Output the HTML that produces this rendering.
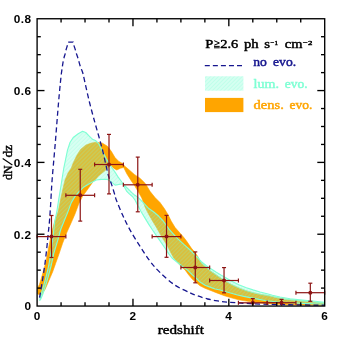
<!DOCTYPE html>
<html><head><meta charset="utf-8"><title>dN/dz</title>
<style>html,body{margin:0;padding:0;background:#fff;}body{width:343px;height:343px;overflow:hidden;font-family:"Liberation Sans",sans-serif;}svg{display:block;will-change:transform;}</style></head>
<body>
<svg width="343" height="343" viewBox="0 0 343 343">
<defs><pattern id="h" width="2.8" height="2.8" patternUnits="userSpaceOnUse" patternTransform="rotate(-45)"><line x1="0" y1="1.4" x2="2.8" y2="1.4" stroke="#7fffd4" stroke-width="1.2"/></pattern>
<clipPath id="cp"><rect x="37.10" y="18.75" width="287.60" height="287.30"/></clipPath></defs>
<rect width="343" height="343" fill="#fff"/>
<g clip-path="url(#cp)">
<path d="M37.50 288.00 L39.40 284.60 L41.30 278.30 L43.80 269.50 L45.70 263.00 L47.50 253.30 L50.00 240.80 L52.50 229.50 L54.50 222.00 L58.20 211.30 L60.70 198.80 L63.20 187.50 L65.00 180.00 L68.00 173.00 L71.30 168.00 L73.40 162.40 L77.00 155.10 L80.60 149.40 L85.80 145.10 L91.40 143.00 L96.40 142.20 L102.50 143.20 L107.50 146.30 L111.30 151.30 L115.00 157.60 L118.80 161.40 L122.60 163.50 L124.30 165.70 L129.30 170.00 L134.30 174.40 L140.00 178.20 L144.40 182.60 L146.30 185.00 L150.00 191.30 L155.00 197.50 L160.00 202.50 L164.50 208.80 L168.20 215.00 L171.30 221.30 L175.10 227.50 L179.50 232.50 L183.90 237.60 L186.90 241.50 L191.30 248.10 L195.10 252.50 L197.60 256.30 L201.40 263.00 L206.30 267.60 L210.00 270.60 L217.50 275.80 L224.40 280.50 L231.30 284.40 L238.80 287.90 L246.40 290.80 L253.00 292.70 L262.60 294.80 L268.00 295.60 L275.00 297.20 L285.00 299.20 L297.60 300.70 L308.00 301.50 L324.70 303.20 L324.70 305.30 L290.00 304.80 L268.00 303.70 L260.00 302.90 L253.00 302.00 L246.40 301.10 L238.80 299.80 L231.30 297.80 L224.40 295.70 L217.50 293.20 L210.00 290.20 L205.00 288.30 L200.00 285.80 L195.00 281.50 L192.60 279.50 L188.80 275.10 L185.10 270.00 L181.00 266.30 L177.50 262.50 L173.80 258.00 L170.70 252.60 L167.60 246.30 L163.80 240.10 L160.00 233.80 L156.30 227.20 L152.50 221.00 L148.50 214.00 L145.00 206.90 L141.80 198.00 L138.70 192.60 L135.00 186.30 L131.20 180.70 L126.80 173.80 L123.70 167.50 L120.50 168.20 L116.80 170.00 L113.60 168.20 L110.50 165.00 L109.50 166.30 L105.00 170.70 L98.80 175.70 L95.00 180.00 L92.50 182.50 L88.00 188.80 L82.60 196.30 L78.80 203.80 L75.10 213.80 L71.30 222.50 L67.00 232.00 L62.60 243.30 L58.80 254.60 L55.70 263.30 L52.60 272.00 L48.80 280.80 L45.00 289.60 L40.60 295.80 L39.40 294.50 L37.50 294.00Z" fill="#FFA500" stroke="#FFA500" stroke-width="0.6"/>
<path d="M39.80 300.50 L40.20 297.00 L42.50 289.60 L45.00 280.80 L47.50 271.00 L49.20 263.00 L50.70 253.30 L52.50 240.80 L53.80 229.50 L54.60 222.00 L56.90 211.30 L58.80 198.80 L60.70 187.50 L61.90 180.00 L63.80 168.00 L65.70 158.80 L67.50 150.10 L70.00 142.50 L73.20 137.50 L78.20 133.80 L82.60 131.30 L85.70 132.50 L89.50 136.30 L92.60 139.40 L95.50 140.50 L98.80 143.80 L102.50 151.30 L106.30 158.80 L110.00 165.10 L112.00 168.00 L114.50 171.30 L118.00 176.90 L121.80 182.00 L124.30 185.10 L128.10 188.80 L131.80 192.60 L133.80 194.40 L137.50 196.90 L141.30 200.70 L144.40 203.80 L148.80 208.60 L153.80 212.00 L158.80 216.30 L163.20 221.00 L168.80 228.80 L173.20 233.80 L177.60 238.60 L183.80 244.40 L190.10 250.00 L196.30 256.30 L201.40 261.60 L206.30 265.80 L211.30 268.90 L216.30 272.20 L221.30 275.20 L224.40 276.90 L231.30 280.90 L238.80 284.80 L246.40 287.70 L253.00 289.90 L260.10 292.00 L268.00 294.00 L272.50 295.20 L280.00 297.00 L290.00 298.70 L302.50 300.10 L315.10 301.30 L324.70 302.40 L324.70 304.20 L308.00 303.60 L290.00 302.80 L277.50 302.00 L265.00 300.50 L257.60 299.10 L250.00 297.60 L243.80 296.40 L237.50 295.00 L231.30 293.20 L225.10 291.50 L220.10 290.00 L215.10 289.00 L210.00 287.10 L205.00 285.20 L200.00 282.10 L195.00 277.00 L192.60 275.10 L187.60 270.10 L182.50 266.50 L177.50 262.50 L172.00 258.00 L168.80 253.90 L165.10 248.20 L161.30 242.60 L156.90 236.30 L152.50 230.00 L148.80 224.40 L145.00 218.10 L141.30 212.00 L137.50 205.00 L135.00 200.00 L132.40 196.50 L129.30 193.90 L126.80 191.40 L123.70 185.70 L123.00 183.80 L118.90 184.50 L115.10 185.10 L111.30 181.90 L107.60 179.40 L101.30 179.40 L96.30 180.00 L92.50 181.90 L88.00 184.40 L83.90 186.90 L78.80 191.90 L75.10 196.30 L71.30 202.60 L67.60 212.60 L63.50 222.50 L60.70 229.50 L57.60 240.80 L53.80 253.30 L51.30 265.00 L48.80 274.50 L46.30 283.30 L43.10 293.30 L40.80 299.00 L39.80 300.50Z" fill="#7fffd4" fill-opacity="0.27" stroke="none"/>
<path d="M39.80 300.50 L40.20 297.00 L42.50 289.60 L45.00 280.80 L47.50 271.00 L49.20 263.00 L50.70 253.30 L52.50 240.80 L53.80 229.50 L54.60 222.00 L56.90 211.30 L58.80 198.80 L60.70 187.50 L61.90 180.00 L63.80 168.00 L65.70 158.80 L67.50 150.10 L70.00 142.50 L73.20 137.50 L78.20 133.80 L82.60 131.30 L85.70 132.50 L89.50 136.30 L92.60 139.40 L95.50 140.50 L98.80 143.80 L102.50 151.30 L106.30 158.80 L110.00 165.10 L112.00 168.00 L114.50 171.30 L118.00 176.90 L121.80 182.00 L124.30 185.10 L128.10 188.80 L131.80 192.60 L133.80 194.40 L137.50 196.90 L141.30 200.70 L144.40 203.80 L148.80 208.60 L153.80 212.00 L158.80 216.30 L163.20 221.00 L168.80 228.80 L173.20 233.80 L177.60 238.60 L183.80 244.40 L190.10 250.00 L196.30 256.30 L201.40 261.60 L206.30 265.80 L211.30 268.90 L216.30 272.20 L221.30 275.20 L224.40 276.90 L231.30 280.90 L238.80 284.80 L246.40 287.70 L253.00 289.90 L260.10 292.00 L268.00 294.00 L272.50 295.20 L280.00 297.00 L290.00 298.70 L302.50 300.10 L315.10 301.30 L324.70 302.40 L324.70 304.20 L308.00 303.60 L290.00 302.80 L277.50 302.00 L265.00 300.50 L257.60 299.10 L250.00 297.60 L243.80 296.40 L237.50 295.00 L231.30 293.20 L225.10 291.50 L220.10 290.00 L215.10 289.00 L210.00 287.10 L205.00 285.20 L200.00 282.10 L195.00 277.00 L192.60 275.10 L187.60 270.10 L182.50 266.50 L177.50 262.50 L172.00 258.00 L168.80 253.90 L165.10 248.20 L161.30 242.60 L156.90 236.30 L152.50 230.00 L148.80 224.40 L145.00 218.10 L141.30 212.00 L137.50 205.00 L135.00 200.00 L132.40 196.50 L129.30 193.90 L126.80 191.40 L123.70 185.70 L123.00 183.80 L118.90 184.50 L115.10 185.10 L111.30 181.90 L107.60 179.40 L101.30 179.40 L96.30 180.00 L92.50 181.90 L88.00 184.40 L83.90 186.90 L78.80 191.90 L75.10 196.30 L71.30 202.60 L67.60 212.60 L63.50 222.50 L60.70 229.50 L57.60 240.80 L53.80 253.30 L51.30 265.00 L48.80 274.50 L46.30 283.30 L43.10 293.30 L40.80 299.00 L39.80 300.50Z" fill="url(#h)" fill-opacity="0.27" stroke="#7fffd4" stroke-width="1.15" stroke-linejoin="round"/>
<path d="M197.60 256.30 L201.40 263.00 L206.30 267.60 L210.00 270.60 L217.50 275.80 L224.40 280.50 L231.30 284.40 L238.80 287.90 L246.40 290.80 L253.00 292.70 L262.60 294.80 L268.00 295.60 L275.00 297.20 L285.00 299.20 L297.60 300.70 L308.00 301.50 L324.70 303.20" fill="none" stroke="#7fffd4" stroke-width="0.8" stroke-opacity="0.9"/>
<path d="M39.60 297.60 C40.08 294.67 41.60 285.70 42.50 280.00 C43.40 274.30 44.27 268.90 45.00 263.40 C45.73 257.90 46.38 251.82 46.90 247.00 C47.42 242.18 47.68 238.67 48.10 234.50 C48.52 230.33 48.98 226.92 49.40 222.00 C49.82 217.08 50.15 212.00 50.60 205.00 C51.05 198.00 51.35 189.98 52.10 180.00 C52.85 170.02 54.03 157.93 55.10 145.10 C56.17 132.27 57.53 114.23 58.50 103.00 C59.47 91.77 60.23 83.92 60.90 77.70 C61.57 71.48 62.12 68.43 62.50 65.70 C62.88 62.97 62.95 62.62 63.20 61.30 C63.45 59.98 63.65 59.15 64.00 57.80 C64.35 56.45 64.97 54.50 65.30 53.20 C65.63 51.90 65.63 51.37 66.00 50.00 C66.37 48.63 67.13 46.30 67.50 45.00 C67.87 43.70 68.08 42.67 68.20 42.20 L73.20 42.20 C73.30 42.67 73.43 43.70 73.80 45.00 C74.17 46.30 74.98 48.63 75.40 50.00 C75.82 51.37 75.90 51.90 76.30 53.20 C76.70 54.50 77.38 56.45 77.80 57.80 C78.22 59.15 78.42 59.98 78.80 61.30 C79.18 62.62 79.68 64.43 80.10 65.70 C80.52 66.97 80.85 67.68 81.30 68.90 C81.75 70.12 82.37 71.53 82.80 73.00 C83.23 74.47 82.82 72.95 83.90 77.70 C84.98 82.45 87.45 93.95 89.30 101.50 C91.15 109.05 93.42 117.20 95.00 123.00 C96.58 128.80 97.55 131.80 98.80 136.30 C100.05 140.80 101.35 145.40 102.50 150.00 C103.65 154.60 104.68 159.52 105.70 163.90 C106.72 168.28 107.58 172.77 108.60 176.30 C109.62 179.83 110.75 181.97 111.80 185.10 C112.85 188.23 114.15 192.62 114.90 195.10 C115.65 197.58 115.02 196.68 116.30 200.00 C117.58 203.32 120.30 209.98 122.60 215.00 C124.90 220.02 127.18 224.87 130.10 230.10 C133.02 235.33 136.75 241.18 140.10 246.40 C143.45 251.62 146.85 257.02 150.20 261.40 C153.55 265.78 156.03 268.72 160.20 272.70 C164.37 276.68 170.23 281.97 175.20 285.30 C180.17 288.63 186.28 290.95 190.00 292.70 C193.72 294.45 194.57 294.75 197.50 295.80 C200.43 296.85 204.25 298.15 207.60 299.00 C210.95 299.85 214.27 300.38 217.60 300.90 C220.93 301.42 222.20 301.65 227.60 302.10 C233.00 302.55 241.27 303.18 250.00 303.60 C258.73 304.02 267.55 304.33 280.00 304.60 C292.45 304.87 317.25 305.10 324.70 305.20" fill="none" stroke="#16168f" stroke-width="1.3" stroke-dasharray="5.1 3.2" stroke-dashoffset="8.25"/>
</g>
<g stroke="#8c1414" stroke-width="1.2" fill="none">
<line x1="37.10" y1="236.60" x2="65.86" y2="236.60"/>
<line x1="51.48" y1="215.50" x2="51.48" y2="257.50"/>
<line x1="49.48" y1="215.50" x2="53.48" y2="215.50"/>
<line x1="49.48" y1="257.50" x2="53.48" y2="257.50"/>
<line x1="37.10" y1="234.60" x2="37.10" y2="238.60"/>
<line x1="65.86" y1="234.60" x2="65.86" y2="238.60"/>
</g>
<circle cx="51.48" cy="236.60" r="2.0" fill="#8c1414"/>
<g stroke="#8c1414" stroke-width="1.2" fill="none">
<line x1="65.86" y1="195.30" x2="94.62" y2="195.30"/>
<line x1="80.24" y1="169.30" x2="80.24" y2="221.10"/>
<line x1="78.24" y1="169.30" x2="82.24" y2="169.30"/>
<line x1="78.24" y1="221.10" x2="82.24" y2="221.10"/>
<line x1="65.86" y1="193.30" x2="65.86" y2="197.30"/>
<line x1="94.62" y1="193.30" x2="94.62" y2="197.30"/>
</g>
<circle cx="80.24" cy="195.30" r="2.0" fill="#8c1414"/>
<g stroke="#8c1414" stroke-width="1.2" fill="none">
<line x1="94.62" y1="164.50" x2="123.38" y2="164.50"/>
<line x1="109.00" y1="134.40" x2="109.00" y2="193.90"/>
<line x1="107.00" y1="134.40" x2="111.00" y2="134.40"/>
<line x1="107.00" y1="193.90" x2="111.00" y2="193.90"/>
<line x1="94.62" y1="162.50" x2="94.62" y2="166.50"/>
<line x1="123.38" y1="162.50" x2="123.38" y2="166.50"/>
</g>
<circle cx="109.00" cy="164.50" r="2.0" fill="#8c1414"/>
<g stroke="#8c1414" stroke-width="1.2" fill="none">
<line x1="123.38" y1="184.80" x2="152.14" y2="184.80"/>
<line x1="137.76" y1="157.10" x2="137.76" y2="211.80"/>
<line x1="135.76" y1="157.10" x2="139.76" y2="157.10"/>
<line x1="135.76" y1="211.80" x2="139.76" y2="211.80"/>
<line x1="123.38" y1="182.80" x2="123.38" y2="186.80"/>
<line x1="152.14" y1="182.80" x2="152.14" y2="186.80"/>
</g>
<circle cx="137.76" cy="184.80" r="2.0" fill="#8c1414"/>
<g stroke="#8c1414" stroke-width="1.2" fill="none">
<line x1="152.14" y1="236.60" x2="180.90" y2="236.60"/>
<line x1="166.52" y1="215.40" x2="166.52" y2="257.30"/>
<line x1="164.52" y1="215.40" x2="168.52" y2="215.40"/>
<line x1="164.52" y1="257.30" x2="168.52" y2="257.30"/>
<line x1="152.14" y1="234.60" x2="152.14" y2="238.60"/>
<line x1="180.90" y1="234.60" x2="180.90" y2="238.60"/>
</g>
<circle cx="166.52" cy="236.60" r="2.0" fill="#8c1414"/>
<g stroke="#8c1414" stroke-width="1.2" fill="none">
<line x1="180.90" y1="267.50" x2="209.66" y2="267.50"/>
<line x1="195.28" y1="251.90" x2="195.28" y2="282.80"/>
<line x1="193.28" y1="251.90" x2="197.28" y2="251.90"/>
<line x1="193.28" y1="282.80" x2="197.28" y2="282.80"/>
<line x1="180.90" y1="265.50" x2="180.90" y2="269.50"/>
<line x1="209.66" y1="265.50" x2="209.66" y2="269.50"/>
</g>
<circle cx="195.28" cy="267.50" r="2.0" fill="#8c1414"/>
<g stroke="#8c1414" stroke-width="1.2" fill="none">
<line x1="209.66" y1="280.50" x2="238.42" y2="280.50"/>
<line x1="224.04" y1="267.60" x2="224.04" y2="292.80"/>
<line x1="222.04" y1="267.60" x2="226.04" y2="267.60"/>
<line x1="222.04" y1="292.80" x2="226.04" y2="292.80"/>
<line x1="209.66" y1="278.50" x2="209.66" y2="282.50"/>
<line x1="238.42" y1="278.50" x2="238.42" y2="282.50"/>
</g>
<circle cx="224.04" cy="280.50" r="2.0" fill="#8c1414"/>
<g stroke="#8c1414" stroke-width="1.2" fill="none">
<line x1="238.42" y1="302.80" x2="267.18" y2="302.80"/>
<line x1="252.80" y1="298.60" x2="252.80" y2="305.60"/>
<line x1="250.80" y1="298.60" x2="254.80" y2="298.60"/>
<line x1="238.42" y1="300.80" x2="238.42" y2="304.80"/>
<line x1="267.18" y1="300.80" x2="267.18" y2="304.80"/>
</g>
<circle cx="252.80" cy="302.80" r="2.0" fill="#8c1414"/>
<g stroke="#8c1414" stroke-width="1.2" fill="none">
<line x1="267.18" y1="302.70" x2="295.94" y2="302.70"/>
<line x1="281.56" y1="299.40" x2="281.56" y2="305.60"/>
<line x1="279.56" y1="299.40" x2="283.56" y2="299.40"/>
<line x1="267.18" y1="300.70" x2="267.18" y2="304.70"/>
<line x1="295.94" y1="300.70" x2="295.94" y2="304.70"/>
</g>
<circle cx="281.56" cy="302.70" r="2.0" fill="#8c1414"/>
<g stroke="#8c1414" stroke-width="1.2" fill="none">
<line x1="295.94" y1="292.70" x2="324.70" y2="292.70"/>
<line x1="310.32" y1="283.20" x2="310.32" y2="301.30"/>
<line x1="308.32" y1="283.20" x2="312.32" y2="283.20"/>
<line x1="308.32" y1="301.30" x2="312.32" y2="301.30"/>
<line x1="295.94" y1="290.70" x2="295.94" y2="294.70"/>
<line x1="324.70" y1="290.70" x2="324.70" y2="294.70"/>
</g>
<circle cx="310.32" cy="292.70" r="2.0" fill="#8c1414"/>
<g stroke="#000" stroke-width="1.35" fill="none">
<rect x="37.10" y="18.75" width="287.60" height="287.30"/>
<line x1="61.07" y1="306.05" x2="61.07" y2="302.35"/>
<line x1="61.07" y1="18.75" x2="61.07" y2="22.45"/>
<line x1="85.03" y1="306.05" x2="85.03" y2="302.35"/>
<line x1="85.03" y1="18.75" x2="85.03" y2="22.45"/>
<line x1="109.00" y1="306.05" x2="109.00" y2="302.35"/>
<line x1="109.00" y1="18.75" x2="109.00" y2="22.45"/>
<line x1="132.97" y1="306.05" x2="132.97" y2="298.65"/>
<line x1="132.97" y1="18.75" x2="132.97" y2="26.15"/>
<line x1="156.93" y1="306.05" x2="156.93" y2="302.35"/>
<line x1="156.93" y1="18.75" x2="156.93" y2="22.45"/>
<line x1="180.90" y1="306.05" x2="180.90" y2="302.35"/>
<line x1="180.90" y1="18.75" x2="180.90" y2="22.45"/>
<line x1="204.87" y1="306.05" x2="204.87" y2="302.35"/>
<line x1="204.87" y1="18.75" x2="204.87" y2="22.45"/>
<line x1="228.83" y1="306.05" x2="228.83" y2="298.65"/>
<line x1="228.83" y1="18.75" x2="228.83" y2="26.15"/>
<line x1="252.80" y1="306.05" x2="252.80" y2="302.35"/>
<line x1="252.80" y1="18.75" x2="252.80" y2="22.45"/>
<line x1="276.77" y1="306.05" x2="276.77" y2="302.35"/>
<line x1="276.77" y1="18.75" x2="276.77" y2="22.45"/>
<line x1="300.73" y1="306.05" x2="300.73" y2="302.35"/>
<line x1="300.73" y1="18.75" x2="300.73" y2="22.45"/>
<line x1="37.10" y1="288.09" x2="40.80" y2="288.09"/>
<line x1="324.70" y1="288.09" x2="321.00" y2="288.09"/>
<line x1="37.10" y1="270.14" x2="40.80" y2="270.14"/>
<line x1="324.70" y1="270.14" x2="321.00" y2="270.14"/>
<line x1="37.10" y1="252.18" x2="40.80" y2="252.18"/>
<line x1="324.70" y1="252.18" x2="321.00" y2="252.18"/>
<line x1="37.10" y1="234.23" x2="44.50" y2="234.23"/>
<line x1="324.70" y1="234.23" x2="317.30" y2="234.23"/>
<line x1="37.10" y1="216.27" x2="40.80" y2="216.27"/>
<line x1="324.70" y1="216.27" x2="321.00" y2="216.27"/>
<line x1="37.10" y1="198.31" x2="40.80" y2="198.31"/>
<line x1="324.70" y1="198.31" x2="321.00" y2="198.31"/>
<line x1="37.10" y1="180.36" x2="40.80" y2="180.36"/>
<line x1="324.70" y1="180.36" x2="321.00" y2="180.36"/>
<line x1="37.10" y1="162.40" x2="44.50" y2="162.40"/>
<line x1="324.70" y1="162.40" x2="317.30" y2="162.40"/>
<line x1="37.10" y1="144.44" x2="40.80" y2="144.44"/>
<line x1="324.70" y1="144.44" x2="321.00" y2="144.44"/>
<line x1="37.10" y1="126.49" x2="40.80" y2="126.49"/>
<line x1="324.70" y1="126.49" x2="321.00" y2="126.49"/>
<line x1="37.10" y1="108.53" x2="40.80" y2="108.53"/>
<line x1="324.70" y1="108.53" x2="321.00" y2="108.53"/>
<line x1="37.10" y1="90.57" x2="44.50" y2="90.57"/>
<line x1="324.70" y1="90.57" x2="317.30" y2="90.57"/>
<line x1="37.10" y1="72.62" x2="40.80" y2="72.62"/>
<line x1="324.70" y1="72.62" x2="321.00" y2="72.62"/>
<line x1="37.10" y1="54.66" x2="40.80" y2="54.66"/>
<line x1="324.70" y1="54.66" x2="321.00" y2="54.66"/>
<line x1="37.10" y1="36.71" x2="40.80" y2="36.71"/>
<line x1="324.70" y1="36.71" x2="321.00" y2="36.71"/>
</g>
<g opacity="0.999">
<g font-family="Liberation Sans, sans-serif" font-weight="bold" font-size="11.8" fill="#000" letter-spacing="0.35">
<text x="31.30" y="310.35" text-anchor="end">0</text>
<text x="31.30" y="238.53" text-anchor="end">0.2</text>
<text x="31.30" y="166.70" text-anchor="end">0.4</text>
<text x="31.30" y="94.88" text-anchor="end">0.6</text>
<text x="31.30" y="23.05" text-anchor="end">0.8</text>
<text x="37.10" y="319.80" text-anchor="middle">0</text>
<text x="132.97" y="319.80" text-anchor="middle">2</text>
<text x="228.83" y="319.80" text-anchor="middle">4</text>
<text x="324.70" y="319.80" text-anchor="middle">6</text>
</g>

<g font-family="Liberation Serif, serif" font-weight="normal" font-size="12" stroke-width="0.45" stroke-linejoin="round">
<g fill="#000" stroke="#000">
<text x="157.8" y="334" font-size="12.7" textLength="46.2" lengthAdjust="spacingAndGlyphs">redshift</text>
<text transform="translate(11.8,179.9) rotate(-90)" font-size="12.8" textLength="14.6" lengthAdjust="spacingAndGlyphs">dN</text>
<line x1="12.4" y1="164.9" x2="2.7" y2="158.5" stroke-width="1.15"/>
<text transform="translate(11.8,157.4) rotate(-90)" font-size="12.8" textLength="12.5" lengthAdjust="spacingAndGlyphs">dz</text>
<text x="205.3" y="47.7" textLength="8" lengthAdjust="spacingAndGlyphs">P</text>
<text x="220.2" y="47.7" textLength="18" lengthAdjust="spacingAndGlyphs">2.6</text>
<text x="243.9" y="47.7" textLength="14.6" lengthAdjust="spacingAndGlyphs">ph</text>
<text x="264.3" y="47.7" textLength="5.8" lengthAdjust="spacingAndGlyphs">s</text>
<text x="270.5" y="45.1" font-size="6.9" textLength="7.4" lengthAdjust="spacingAndGlyphs">−1</text>
<text x="284.8" y="47.7" textLength="17.6" lengthAdjust="spacingAndGlyphs">cm</text>
<text x="303.0" y="45.1" font-size="6.9" textLength="9.4" lengthAdjust="spacingAndGlyphs">−2</text>
</g>
<g fill="#16168f" stroke="#16168f"><text x="253.2" y="66.1" textLength="13.6" lengthAdjust="spacingAndGlyphs">no</text>
<text x="273.1" y="66.1" textLength="23" lengthAdjust="spacingAndGlyphs">evo.</text></g>
<g fill="#7fffd4" stroke="#7fffd4"><text x="253.6" y="87.9" textLength="25.4" lengthAdjust="spacingAndGlyphs">lum.</text>
<text x="284.8" y="87.9" textLength="22.8" lengthAdjust="spacingAndGlyphs">evo.</text></g>
<g fill="#ffa500" stroke="#ffa500"><text x="253.6" y="109.1" textLength="30.2" lengthAdjust="spacingAndGlyphs">dens.</text>
<text x="289.5" y="109.1" textLength="22.8" lengthAdjust="spacingAndGlyphs">evo.</text></g>
</g>
<path d="M214.2 40.7 L219.4 43 L214.2 45.2 M214 46.4 H219.7 M214 47.8 H219.7" fill="none" stroke="#000" stroke-width="1.0"/>
<line x1="204.8" y1="65.5" x2="242.2" y2="65.5" stroke="#16168f" stroke-width="1.25" stroke-dasharray="5 3.05"/>
<rect x="205" y="76.3" width="38.4" height="14.4" fill="#7fffd4" fill-opacity="0.30"/><rect x="205" y="76.3" width="38.4" height="14.4" fill="url(#h)" fill-opacity="0.28"/>
<rect x="205" y="97.9" width="38.4" height="14.2" fill="#ffa500"/>

</g>
</svg>
</body></html>
